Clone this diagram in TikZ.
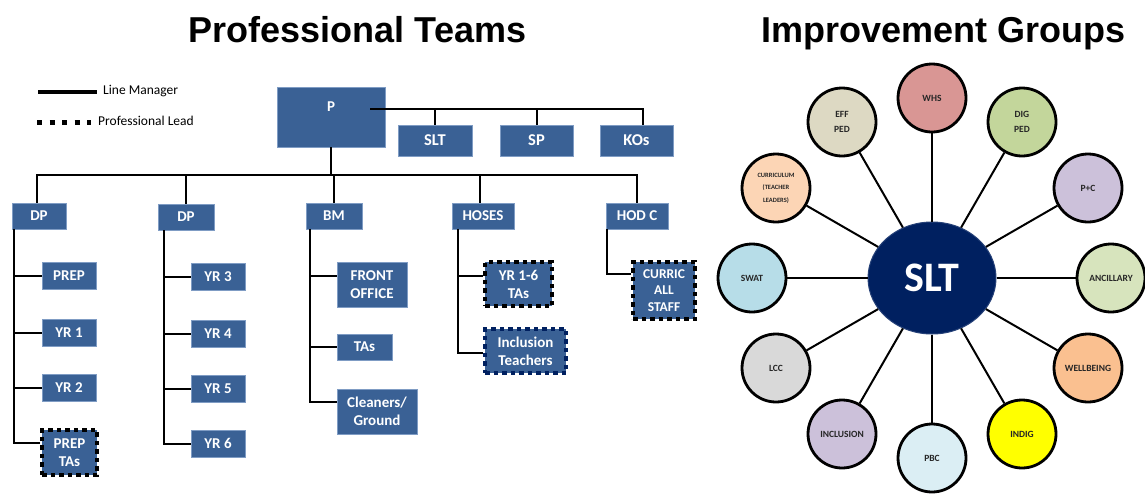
\documentclass[tikz,border=0pt]{standalone}
\usepackage{fontspec}
\setmainfont{Carlito}
\newfontfamily\headfont{Liberation Sans}
\usetikzlibrary{shapes.geometric}

\definecolor{boxblue}{HTML}{3A6195}
\definecolor{boxedge}{HTML}{7F9CC4}
\definecolor{navy}{HTML}{002060}
\definecolor{labelgrey}{HTML}{262626}
\definecolor{cWHS}{HTML}{D99694}
\definecolor{cEFF}{HTML}{DDD9C3}
\definecolor{cDIG}{HTML}{C3D69B}
\definecolor{cPC}{HTML}{CCC1DA}
\definecolor{cANC}{HTML}{D7E4BD}
\definecolor{cWELL}{HTML}{FAC090}
\definecolor{cINDIG}{HTML}{FFFF00}
\definecolor{cPBC}{HTML}{DBEEF4}
\definecolor{cINCL}{HTML}{CCC1DA}
\definecolor{cLCC}{HTML}{D9D9D9}
\definecolor{cSWAT}{HTML}{B7DDE8}
\definecolor{cCURR}{HTML}{FCD5B5}

\tikzset{
  title/.style={font=\headfont\bfseries\fontsize{36}{40}\selectfont, anchor=base, inner sep=0},
  legendtext/.style={font=\fontsize{13.5}{15}\selectfont, anchor=west, inner sep=0},
  box/.style={rectangle, fill=boxblue, draw=boxedge, line width=0.8pt, text=white,
    font=\bfseries\fontsize{15}{18}\selectfont, align=center, inner sep=0},
  boxtxt/.style={text=white, font=\bfseries\fontsize{15}{18}\selectfont, inner sep=0},
  leadbox/.style={box, draw=black, line width=4.5pt, dash pattern=on 4.5pt off 4pt},
  leadboxnavy/.style={leadbox, draw=navy},
  lm/.style={draw=black, line width=2pt},
  spoke/.style={draw=black, line width=2pt},
  group/.style={circle, draw=black, line width=2.8pt, minimum size=68pt, inner sep=0,
    text=labelgrey, align=center, font=\bfseries\fontsize{9.5}{15}\selectfont},
  hub/.style={ellipse, fill=navy, draw=navy!85!white, line width=1pt, minimum width=128pt,
    minimum height=112pt, text=white, font=\bfseries\fontsize{42}{44}\selectfont, inner sep=0}
}

\begin{document}
\begin{tikzpicture}[x=1pt, y=-1pt]
\useasboundingbox (0,0) rectangle (1145,493);

% headings
\node[title] (t1) at (357.5,42) {Professional Teams};
\node[title] (t2) at (943.5,42) {Improvement Groups};

% legend
\coordinate (lg1a) at (38,92);
\coordinate (lg1b) at (97,92);
\draw[line width=4.5pt] (lg1a) -- (lg1b);
\node[legendtext] (lgt1) at (103,91) {Line Manager};
\coordinate (lg2a) at (37,122);
\coordinate (lg2b) at (91,122);
\draw[line width=5pt, dash pattern=on 5pt off 7.5pt] (lg2a) -- (lg2b);
\node[legendtext] (lgt2) at (98,121) {Professional Lead};

% principal and the teams beside it
\node[box, minimum width=108pt, minimum height=60pt] (P) at (331,117) {};
\node[boxtxt] (Ptxt) at (331,107) {P};
\node[box, minimum width=74pt, minimum height=31pt, font=\bfseries\fontsize{16.5}{18}\selectfont] (SLT) at (435,140.5) {SLT};
\node[box, minimum width=73pt, minimum height=31pt, font=\bfseries\fontsize{16.5}{18}\selectfont] (SP) at (536.5,140.5) {SP};
\node[box, minimum width=73pt, minimum height=31pt, font=\bfseries\fontsize{16.5}{18}\selectfont] (KOs) at (636.5,140.5) {KOs};
\coordinate (pr) at (370,109);
\draw[lm] (pr) -- ([xshift=6pt]KOs.north |- pr) -- ([xshift=6pt]KOs.north);
\draw[lm] (SLT.north |- pr) -- (SLT.north);
\draw[lm] (SP.north |- pr) -- (SP.north);

% second level
\node[box, minimum width=54pt, minimum height=26pt] (DP1) at (39,216) {DP};
\node[box, minimum width=56pt, minimum height=26pt] (DP2) at (186,217) {DP};
\node[box, minimum width=56pt, minimum height=26pt] (BM) at (334,216) {BM};
\node[box, minimum width=62pt, minimum height=26pt] (HOSES) at (483,216) {HOSES};
\node[box, minimum width=62pt, minimum height=26pt] (HODC) at (637,216) {HOD C};
\coordinate (bus) at (331,175);
\draw[lm] (P.south) -- (bus);
\draw[lm] ([xshift=-2pt]DP1.north) -- ([xshift=-2pt]DP1.north |- bus) -- (HODC.north |- bus) -- (HODC.north);
\draw[lm] (DP2.north |- bus) -- (DP2.north);
\draw[lm] (BM.north |- bus) -- (BM.north);
\draw[lm] ([xshift=-3pt]HOSES.north |- bus) -- ([xshift=-3pt]HOSES.north);

% DP (early years) team
\node[box, minimum width=54pt, minimum height=27pt] (PREP) at (69,275.5) {PREP};
\node[box, minimum width=54pt, minimum height=27pt] (YR1) at (69,333) {YR 1};
\node[box, minimum width=54pt, minimum height=27pt] (YR2) at (69,388) {YR 2};
\node[leadbox, minimum width=55pt, minimum height=45pt] (PTAs) at (69.5,452.5) {PREP\\TAs};
\coordinate (dp1l) at ([xshift=2pt]DP1.south west);
\draw[lm] (dp1l) |- (PREP.west);
\draw[lm] (dp1l) |- (YR1.west);
\draw[lm] (dp1l) |- (YR2.west);
\draw[lm] (dp1l) |- ([yshift=10pt]PTAs.west);

% DP (upper years) team
\node[box, minimum width=54pt, minimum height=27pt] (YR3) at (218,276.5) {YR 3};
\node[box, minimum width=54pt, minimum height=27pt] (YR4) at (218,334) {YR 4};
\node[box, minimum width=54pt, minimum height=27pt] (YR5) at (218,389) {YR 5};
\node[box, minimum width=54pt, minimum height=27pt] (YR6) at (218,443.5) {YR 6};
\coordinate (dp2l) at ([xshift=6pt]DP2.south west);
\draw[lm] (dp2l) |- (YR3.west);
\draw[lm] (dp2l) |- (YR4.west);
\draw[lm] (dp2l) |- (YR5.west);
\draw[lm] (dp2l) |- (YR6.west);

% business manager team
\node[box, minimum width=70pt, minimum height=45pt] (FO) at (372,284.5) {FRONT\\OFFICE};
\node[box, minimum width=55pt, minimum height=26pt] (TAs) at (364.5,347) {TAs};
\node[box, minimum width=80pt, minimum height=45pt] (CG) at (377,411.5) {Cleaners/\\Ground};
\coordinate (bml) at ([xshift=4pt]BM.south west);
\draw[lm] (bml) |- ([yshift=8.5pt]FO.west);
\draw[lm] (bml) |- (TAs.west);
\draw[lm] (bml) |- ([yshift=9.5pt]CG.west);

% special education team
\node[leadbox, minimum width=67pt, minimum height=44pt] (TA16) at (518.5,284) {YR 1-6\\TAs};
\node[leadboxnavy, minimum width=81pt, minimum height=44pt] (IncT) at (525.5,351) {Inclusion\\Teachers};
\coordinate (hosl) at ([xshift=6pt]HOSES.south west);
\draw[lm] (hosl) |- ([yshift=8pt]TA16.west);
\draw[lm] (hosl) |- ([yshift=-2pt]IncT.west);

% curriculum team
\node[leadbox, minimum width=62pt, minimum height=57pt, font=\bfseries\fontsize{13.5}{16.5}\selectfont] (CAS) at (664,290.5) {CURRIC\\ALL\\STAFF};
\coordinate (hodl) at ([xshift=1pt]HODC.south west);
\draw[lm] (hodl) |- ([yshift=16.5pt]CAS.west);

% improvement groups
\node[hub] (hub) at (932,278) {SLT};
\node[group, fill=cWHS] (WHS) at (932,98) {WHS};
\node[group, fill=cDIG] (DIG) at (1022,122) {DIG\\PED};
\node[group, fill=cPC] (PC) at (1088,188) {P+C};
\node[group, fill=cANC] (ANC) at (1111,278) {ANCILLARY};
\node[group, fill=cWELL] (WELL) at (1088,368) {WELLBEING};
\node[group, fill=cINDIG] (INDIG) at (1022,434) {INDIG};
\node[group, fill=cPBC] (PBC) at (932,458) {PBC};
\node[group, fill=cINCL] (INCL) at (842,434) {INCLUSION};
\node[group, fill=cLCC] (LCC) at (776,368) {LCC};
\node[group, fill=cSWAT] (SWAT) at (752,278) {SWAT};
\node[group, fill=cCURR, font=\bfseries\fontsize{6.5}{12.5}\selectfont] (CURR) at (776,188) {CURRICULUM\\(TEACHER\\LEADERS)};
\node[group, fill=cEFF] (EFF) at (842,122) {EFF\\PED};
\foreach \g in {WHS,DIG,PC,ANC,WELL,INDIG,PBC,INCL,LCC,SWAT,CURR,EFF}
  \draw[spoke] (hub) -- (\g);
\end{tikzpicture}
\end{document}
